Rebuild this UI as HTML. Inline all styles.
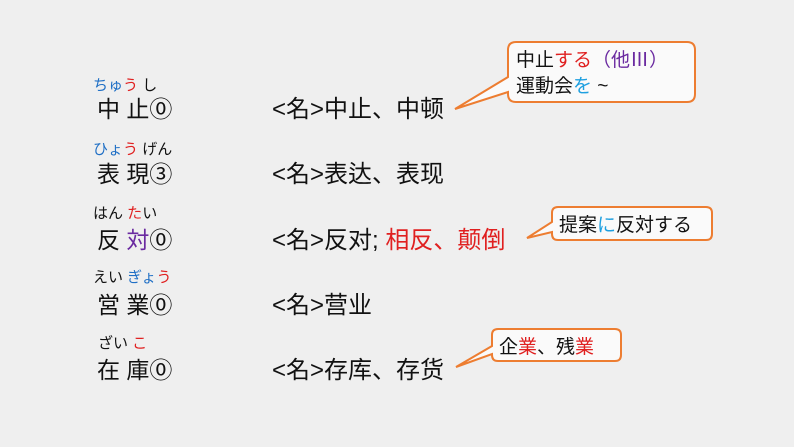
<!DOCTYPE html>
<html><head><meta charset="utf-8"><style>
html,body{margin:0;padding:0;}
body{width:794px;height:447px;background:#efefef;overflow:hidden;}
svg{display:block;font-family:"Liberation Sans","Noto Sans CJK JP",sans-serif;}
</style></head><body>
<svg width="794" height="447" viewBox="0 0 794 447" xmlns="http://www.w3.org/2000/svg">
<rect width="794" height="447" fill="#efefef"/>
<g font-size="15">
<text x="93" y="90"><tspan fill="#1f6fc5">ちゅ</tspan><tspan fill="#e02020">う</tspan><tspan fill="#111"> し</tspan></text>
<text x="93" y="154"><tspan fill="#1f6fc5">ひょ</tspan><tspan fill="#e02020">う</tspan><tspan fill="#111"> げん</tspan></text>
<text x="93" y="218"><tspan fill="#111">はん </tspan><tspan fill="#e02020">た</tspan><tspan fill="#111">い</tspan></text>
<text x="93" y="282"><tspan fill="#111">えい </tspan><tspan fill="#1f6fc5">ぎょ</tspan><tspan fill="#e02020">う</tspan></text>
<text x="98" y="348"><tspan fill="#111">ざい </tspan><tspan fill="#e02020">こ</tspan></text>
</g>
<g font-size="23" fill="#111">
<text x="97" y="117">中 止⓪</text>
<text x="97" y="182">表 現③</text>
<text x="97" y="248">反 <tspan fill="#6a2aa0">対</tspan>⓪</text>
<text x="97" y="313">営 業⓪</text>
<text x="97" y="378">在 庫⓪</text>
</g>
<g font-size="24" fill="#111">
<text x="272" y="117">&lt;名&gt;中止、中顿</text>
<text x="272" y="182">&lt;名&gt;表达、表现</text>
<text x="272" y="248">&lt;名&gt;反对; <tspan fill="#e02020">相反、颠倒</tspan></text>
<text x="272" y="313">&lt;名&gt;营业</text>
<text x="272" y="378">&lt;名&gt;存库、存货</text>
</g>
<g fill="#fafafa" stroke="#ed7d31" stroke-width="2">
<path d="M516,42 H687 Q695,42 695,50 V94 Q695,102 687,102 H516 Q508,102 508,94 V92 L455,109 L508,77 V50 Q508,42 516,42 Z"/>
<path d="M558,207 H706 Q712,207 712,213 V234 Q712,240 706,240 H558 Q552,240 552,234 V232 L527,238 L552,222 V213 Q552,207 558,207 Z"/>
<path d="M498,329 H615 Q621,329 621,335 V355 Q621,361 615,361 H498 Q492,361 492,355 V354 L456,367 L492,346 V335 Q492,329 498,329 Z"/>
</g>
<g font-size="19" fill="#111">
<text x="516" y="66">中止<tspan fill="#e02020">する</tspan><tspan fill="#6a2aa0">（他Ⅲ）</tspan></text>
<text x="516" y="92">運動会<tspan fill="#1fa0e0">を</tspan> ~</text>
<text x="559" y="231">提案<tspan fill="#1fa0e0">に</tspan>反対する</text>
<text x="499" y="353">企<tspan fill="#e02020">業</tspan>、残<tspan fill="#e02020">業</tspan></text>
</g>
</svg>
</body></html>
